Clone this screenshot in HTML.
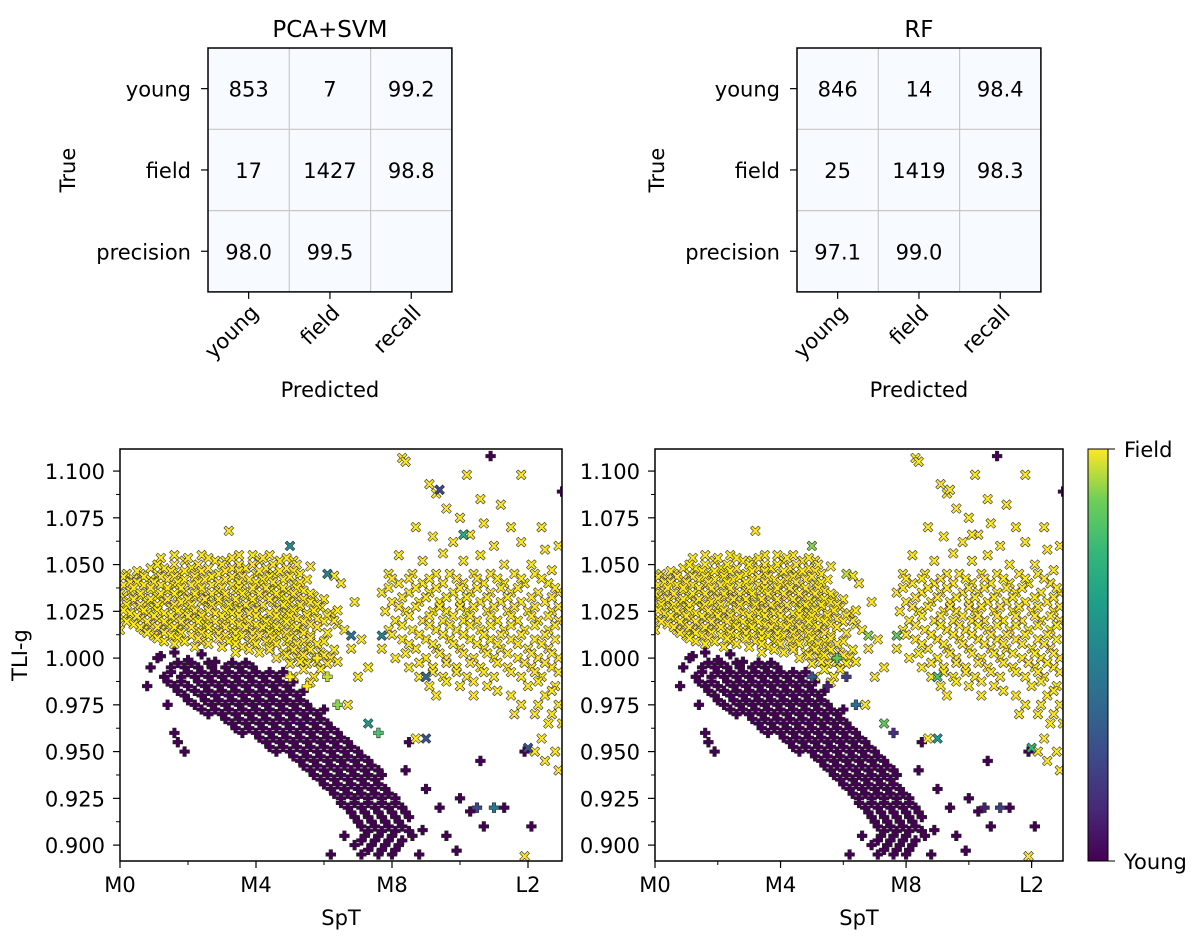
<!DOCTYPE html>
<html><head><meta charset="utf-8">
<style>
html,body{margin:0;padding:0;background:#fff;}
svg{display:block;font-family:"DejaVu Sans","Liberation Sans",sans-serif;}
</style></head>
<body>
<svg id="fig" width="1200" height="937" viewBox="0 0 1200 937" xmlns="http://www.w3.org/2000/svg">
<defs>
<clipPath id="clipL"><rect x="120" y="449" width="442" height="412"/></clipPath>
<clipPath id="clipR"><rect x="655" y="449" width="408" height="412"/></clipPath>
<linearGradient id="viridis" x1="0" y1="1" x2="0" y2="0">
<stop offset="0" stop-color="#440154"/><stop offset="0.125" stop-color="#482878"/><stop offset="0.25" stop-color="#3e4989"/><stop offset="0.375" stop-color="#31688e"/><stop offset="0.5" stop-color="#26828e"/><stop offset="0.625" stop-color="#1f9e89"/><stop offset="0.75" stop-color="#35b779"/><stop offset="0.875" stop-color="#6ece58"/><stop offset="1" stop-color="#fde725"/>
</linearGradient>
</defs>
<g id="cms"></g>
<g id="scatters"></g>
<g>
<rect x="1088" y="449" width="20" height="412" fill="url(#viridis)" stroke="#000" stroke-width="1"/>
<line x1="1108" y1="449" x2="1115" y2="449" stroke="#000"/>
<line x1="1108" y1="861" x2="1115" y2="861" stroke="#000"/>
<text x="1124" y="457" font-size="21">Field</text>
<text x="1124" y="869" font-size="21">Young</text>
</g>
</svg>
<script>
// ---- confusion matrix data ----
const cmRowLabels = ["young","field","precision"];
const cmColLabels = ["young","field","recall"];
const svmValues = [["853","7","99.2"],["17","1427","98.8"],["98.0","99.5",""]];
const rfValues = [["846","14","98.4"],["25","1419","98.3"],["97.1","99.0",""]];

// ---- scatter data (SpT index: M0=0 ... L3=13; TLI-g) ----
const fieldSpT = [3.2,
1.6,2.4,3.5,3.9,4.4,
1.9,2.8,3.1,4.1,4.7,5.1,
0.9,1.3,2.1,2.6,3.3,3.7,4.3,4.9,
0.2,0.6,1.1,1.7,2.2,2.9,3.5,4.0,4.5,5.3,
0.4,0.9,1.4,1.9,2.5,3.1,3.8,4.2,4.8,5.5,
0.1,0.7,1.2,1.6,2.1,2.7,3.3,3.6,4.1,4.6,5.1,
0.3,0.9,1.4,1.9,2.4,2.9,3.4,3.9,4.4,4.9,5.4,
0.1,0.6,1.1,1.7,2.2,2.6,3.1,3.7,4.2,4.7,5.2,5.7,
0.2,0.8,1.3,1.8,2.4,2.9,3.4,3.9,4.5,5.0,5.6,
0.0,0.5,1.0,1.5,2.0,2.6,3.2,3.6,4.1,4.7,5.3,5.9,
0.3,0.8,1.3,1.9,2.3,2.8,3.3,3.8,4.4,4.9,5.5,6.2,
0.1,0.6,1.1,1.6,2.1,2.6,3.1,3.6,4.2,4.8,5.2,5.8,
0.4,0.9,1.4,1.9,2.5,3.0,3.5,4.0,4.5,5.0,5.6,6.4,
0.0,0.7,1.2,1.7,2.3,2.8,3.3,3.8,4.3,4.7,5.3,
1.0,1.5,2.1,2.6,3.1,3.6,4.1,4.6,5.1,5.6,
1.3,1.9,2.4,3.2,3.8,4.3,4.9,5.4,6.0,
2.2,3.0,3.6,4.4,5.0,5.5,
3.4,4.1,4.8,5.3,5.9,
4.6,5.2,5.7,6.2,
5.0,5.5,6.1,
5.4,5.9,
5.1,5.7,
5.6,
6.3,6.6,6.9,7.1,6.8,7.3,6.5,7.0,6.7,6.3,5.6,
8.3,8.4,9.1,9.3,10.2,11.8,10.6,11.2,9.6,10.0,10.7,11.5,12.4,8.7,9.2,9.8,10.3,11.0,11.8,12.5,12.9,8.2,8.9,9.5,10.1,10.6,11.3,12.1,12.7,
7.9,8.6,9.3,9.7,10.4,10.9,11.6,12.2,
8.2,8.9,9.5,10.1,10.7,11.3,11.9,12.6,
7.7,8.5,9.1,9.8,10.3,10.9,11.5,12.3,12.9,
8.0,8.8,9.4,10.0,10.6,11.2,11.8,12.5,
7.8,8.4,9.2,9.6,10.2,10.8,11.4,12.0,12.7,
8.1,8.9,9.5,10.1,10.5,11.1,11.7,12.3,12.9,
7.9,8.6,9.3,9.9,10.6,11.3,11.9,12.6,
8.3,9.0,9.7,10.3,10.9,11.5,12.2,12.8,
7.7,8.7,9.3,10.0,10.7,11.2,12.0,12.6,
8.1,9.0,9.6,10.4,11.0,11.7,12.3,12.9,
8.5,9.2,9.9,10.6,11.4,12.1,12.7,
8.8,9.5,10.2,11.0,11.8,12.4,
9.1,10.0,10.8,12.0,12.8,
9.3,10.4,11.5,12.5,
11.8,12.3,12.9,
11.6,12.2,12.7,
12.6,13.0,
8.7,12.4,
12.2,12.8,
12.5,12.9,11.9];
const fieldTLI = [1.068,
1.055,1.055,1.055,1.055,1.055,
1.052,1.052,1.052,1.052,1.052,1.052,
1.048,1.048,1.048,1.048,1.048,1.048,1.048,1.048,
1.045,1.045,1.045,1.045,1.045,1.045,1.045,1.045,1.045,1.045,
1.042,1.042,1.042,1.042,1.042,1.042,1.042,1.042,1.042,1.042,
1.039,1.039,1.039,1.039,1.039,1.039,1.039,1.039,1.039,1.039,1.039,
1.036,1.036,1.036,1.036,1.036,1.036,1.036,1.036,1.036,1.036,1.036,
1.033,1.033,1.033,1.033,1.033,1.033,1.033,1.033,1.033,1.033,1.033,1.033,
1.030,1.030,1.030,1.030,1.030,1.030,1.030,1.030,1.030,1.030,1.030,
1.027,1.027,1.027,1.027,1.027,1.027,1.027,1.027,1.027,1.027,1.027,1.027,
1.024,1.024,1.024,1.024,1.024,1.024,1.024,1.024,1.024,1.024,1.024,1.024,
1.021,1.021,1.021,1.021,1.021,1.021,1.021,1.021,1.021,1.021,1.021,1.021,
1.018,1.018,1.018,1.018,1.018,1.018,1.018,1.018,1.018,1.018,1.018,1.018,
1.015,1.015,1.015,1.015,1.015,1.015,1.015,1.015,1.015,1.015,1.015,
1.012,1.012,1.012,1.012,1.012,1.012,1.012,1.012,1.012,1.012,
1.009,1.009,1.009,1.009,1.009,1.009,1.009,1.009,1.009,
1.006,1.006,1.006,1.006,1.006,1.006,
1.003,1.003,1.003,1.003,1.003,
1.000,1.000,1.000,1.000,
0.997,0.997,0.997,
0.994,0.994,
0.990,0.990,
0.987,
1.020,1.015,1.030,1.010,1.005,0.995,1.040,0.990,0.975,1.044,1.049,
1.107,1.105,1.093,1.088,1.098,1.098,1.085,1.082,1.080,1.075,1.072,1.070,1.070,1.070,1.065,1.062,1.066,1.060,1.062,1.058,1.060,1.055,1.052,1.056,1.052,1.055,1.050,1.050,1.047,
1.045,1.045,1.045,1.045,1.045,1.045,1.045,1.045,
1.040,1.040,1.040,1.040,1.040,1.040,1.040,1.040,
1.035,1.035,1.035,1.035,1.035,1.035,1.035,1.035,1.035,
1.030,1.030,1.030,1.030,1.030,1.030,1.030,1.030,
1.025,1.025,1.025,1.025,1.025,1.025,1.025,1.025,1.025,
1.020,1.020,1.020,1.020,1.020,1.020,1.020,1.020,1.020,
1.015,1.015,1.015,1.015,1.015,1.015,1.015,1.015,
1.010,1.010,1.010,1.010,1.010,1.010,1.010,1.010,
1.005,1.005,1.005,1.005,1.005,1.005,1.005,1.005,
1.000,1.000,1.000,1.000,1.000,1.000,1.000,1.000,
0.995,0.995,0.995,0.995,0.995,0.995,0.995,
0.990,0.990,0.990,0.990,0.990,0.990,
0.985,0.985,0.985,0.985,0.985,
0.980,0.980,0.980,0.980,
0.975,0.975,0.975,
0.970,0.970,0.970,
0.965,0.965,
0.957,0.957,
0.950,0.950,
0.945,0.940,0.894];

// additional field points, read row by row (TLI of row, SpT values in row)
const fieldRowsTLI = [1.0535,1.0500,1.0465,1.0435,1.0405,1.0375,1.0345,1.0315,1.0285,1.0255,1.0225,1.0195,1.0165,1.0135,1.0105,1.0075,1.0045,1.0015,0.998,
1.0425,1.0375,1.0325,1.0275,1.0225,1.0175,1.0125,1.0075,1.0025,0.9975,0.9925,0.9875,0.9825];
const fieldRowsSpT = [
[1.2,2.0,2.6,3.3,4.2,4.9],
[1.1,1.6,2.3,3.0,3.5,3.9,4.5,5.2],
[0.5,1.5,1.9,2.4,3.1,3.5,4.1,4.7,5.1],
[0.1,0.7,1.2,1.6,2.2,2.7,3.3,3.6,4.4,5.0],
[0.3,0.5,1.0,1.7,2.3,2.9,3.5,4.0,4.5,5.3],
[0.4,0.9,1.4,1.8,2.4,3.0,3.5,3.9,4.3,4.8,5.2],
[0.0,0.6,1.2,1.6,2.2,2.7,3.1,3.6,4.1,4.6,5.1,5.6],
[0.4,0.9,1.4,2.0,2.5,2.9,3.4,3.9,4.4,4.9,5.4,6.0],
[0.2,0.6,1.1,1.6,2.1,2.7,3.2,3.7,4.2,4.8,5.3,5.8],
[0.1,0.7,1.1,1.7,2.2,2.6,3.1,3.5,4.0,4.6,5.1,5.7,6.4],
[0.5,1.0,1.5,2.0,2.4,3.0,3.5,4.0,4.6,5.0,5.5,6.1],
[0.2,0.8,1.3,1.8,2.3,2.8,3.3,3.8,4.3,4.9,5.4,6.0],
[0.6,1.1,1.6,2.1,2.6,3.1,3.7,4.2,4.6,5.2,5.8],
[0.8,1.3,1.8,2.4,2.9,3.4,3.9,4.4,4.9,5.4,6.1],
[1.1,1.7,2.3,2.9,3.4,3.9,4.5,5.0,5.6],
[1.6,2.6,3.4,4.0,4.6,5.2,5.8],
[3.8,4.4,5.1,5.6,6.3],
[4.9,5.4,6.0],
[5.3,5.8,6.4],
[8.0,8.5,9.1,9.9,10.5,11.1,11.8,12.4],
[7.9,8.7,9.3,10.0,10.5,11.2,11.7,12.8],
[8.3,9.0,9.6,10.2,10.8,11.4,12.1,12.7],
[8.2,8.7,9.4,10.0,10.4,11.0,11.6,12.2,12.9],
[8.5,9.1,9.8,10.3,10.9,11.5,12.1,12.6],
[8.3,9.1,9.7,10.3,10.9,11.5,12.2,12.8],
[8.0,8.8,9.5,10.1,10.7,11.2,11.8,12.5],
[8.5,9.2,9.8,10.5,11.1,11.7,12.4],
[8.4,9.4,10.1,10.8,11.4,12.1,12.7],
[8.8,9.6,10.3,11.1,11.9,12.5],
[9.2,9.9,10.7,11.5,12.2,12.9],
[9.6,10.4,12.3],
[11.1,12.7]];

const youngSpT = [1.2,1.6,2.0,2.4,2.8,0.9,1.1,0.8,
1.5,1.9,2.3,2.7,3.1,3.5,3.9,
1.3,1.8,2.2,2.6,3.0,3.4,3.8,4.2,4.6,
1.6,2.0,2.5,2.9,3.3,3.7,4.1,4.5,4.9,
1.9,2.4,2.8,3.2,3.6,4.0,4.4,4.8,5.2,
1.4,2.2,2.7,3.1,3.5,3.9,4.3,4.7,5.1,5.5,
2.6,3.0,3.4,3.8,4.2,4.6,5.0,5.4,5.8,
3.3,3.7,4.1,4.5,4.9,5.3,5.7,6.1,
1.6,3.6,4.0,4.4,4.8,5.2,5.6,6.0,6.4,
1.7,4.3,4.7,5.1,5.5,5.9,6.3,6.7,
1.9,4.6,5.0,5.4,5.8,6.2,6.6,7.0,
5.3,5.7,6.1,6.5,6.9,7.3,
5.6,6.0,6.4,6.8,7.2,7.6,
5.9,6.3,6.7,7.1,7.5,
6.2,6.6,7.0,7.4,7.8,
6.5,6.9,7.3,7.7,8.1,
6.7,7.1,7.5,7.9,8.3,
6.9,7.3,7.7,8.1,8.5,
7.1,7.5,7.9,8.3,
6.6,7.2,7.6,8.0,8.6,
6.9,7.4,7.8,8.2,
6.2,7.1,7.6,8.0,8.8,
8.5,9.0,9.4,10.0,10.3,8.9,9.6,10.7,11.3,12.1,9.9,8.4,10.6,11.9,10.9,13.0];
const youngTLI = [1.001,1.003,0.999,1.002,0.998,0.995,1.0,0.985,
0.995,0.995,0.995,0.995,0.995,0.995,0.995,
0.990,0.990,0.990,0.990,0.990,0.990,0.990,0.990,0.990,
0.985,0.985,0.985,0.985,0.985,0.985,0.985,0.985,0.985,
0.980,0.980,0.980,0.980,0.980,0.980,0.980,0.980,0.980,
0.975,0.975,0.975,0.975,0.975,0.975,0.975,0.975,0.975,0.975,
0.970,0.970,0.970,0.970,0.970,0.970,0.970,0.970,0.970,
0.965,0.965,0.965,0.965,0.965,0.965,0.965,0.965,
0.960,0.960,0.960,0.960,0.960,0.960,0.960,0.960,0.960,
0.955,0.955,0.955,0.955,0.955,0.955,0.955,0.955,
0.950,0.950,0.950,0.950,0.950,0.950,0.950,0.950,
0.945,0.945,0.945,0.945,0.945,0.945,
0.940,0.940,0.940,0.940,0.940,0.940,
0.935,0.935,0.935,0.935,0.935,
0.930,0.930,0.930,0.930,0.930,
0.925,0.925,0.925,0.925,0.925,
0.920,0.920,0.920,0.920,0.920,
0.915,0.915,0.915,0.915,0.915,
0.910,0.910,0.910,0.910,
0.905,0.905,0.905,0.905,0.905,
0.900,0.900,0.900,0.900,
0.895,0.895,0.895,0.895,0.895,
0.955,0.930,0.920,0.925,0.918,0.908,0.905,0.910,0.920,0.910,0.897,0.940,0.945,0.950,1.108,1.089];

// additional young points, read row by row
const youngRowsTLI = [0.9975,0.9925,0.9875,0.9825,0.9775,0.9725,0.9675,0.9625,0.9575,0.9525,0.9475,0.9425,0.9375,0.9325,0.9275,0.9225,0.9175,0.9125,0.9075,0.9025,0.8975];
const youngRowsSpT = [
[1.7,2.1,2.6,3.3,3.7],
[1.5,2.0,2.4,2.8,3.2,3.6,4.0,4.4,4.8],
[1.4,1.8,2.3,2.7,3.1,3.5,3.9,4.3,4.7,5.1],
[1.7,2.2,2.6,3.0,3.4,3.8,4.2,4.6,5.0,5.4],
[2.0,2.5,2.9,3.3,3.7,4.1,4.5,4.9,5.3],
[2.4,2.8,3.2,3.6,4.0,4.4,4.8,5.2,5.6,6.0],
[3.1,3.5,3.9,4.3,4.7,5.1,5.5,5.9],
[3.4,3.8,4.2,4.6,5.0,5.4,5.8,6.2],
[4.1,4.5,4.9,5.3,5.7,6.1,6.5],
[4.4,4.8,5.2,5.6,6.0,6.4,6.8],
[5.1,5.5,5.9,6.3,6.7,7.1],
[5.4,5.8,6.2,6.6,7.0,7.4],
[5.7,6.1,6.5,6.9,7.3,7.7],
[6.0,6.4,6.8,7.2,7.6],
[6.3,6.7,7.1,7.5,7.9],
[6.5,6.9,7.3,7.7,8.1],
[6.8,7.2,7.6,8.0,8.4],
[7.0,7.4,7.8,8.2],
[7.3,7.7,8.1,8.5],
[7.1,7.5,7.9,8.3],
[7.3,7.7,8.1]];

// points with intermediate predicted probability (0 = young, 1 = field)
const mixedSpT = [5.0,6.1,6.8,7.7,9.0,10.1,7.3,7.6,11.0,10.5,9.0,12.0,9.4,5.0,5.8,6.1,5.5,6.4];
const mixedTLI = [1.060,1.045,1.012,1.012,0.990,1.066,0.965,0.960,0.920,0.920,0.957,0.952,1.090,0.990,1.000,0.990,0.985,0.975];
const mixedMarker = ["X","X","X","X","X","X","X","P","P","P","X","X","X","P","P","P","P","P"];
const svmProb = [0.55,0.5,0.45,0.5,0.4,0.7,0.6,0.8,0.45,0.25,0.3,0.3,0.25,1.0,1.0,0.95,1.0,0.9];
const rfProb = [0.9,0.95,0.9,0.85,0.8,1.0,0.85,0.15,0.2,0.1,0.6,0.75,1.0,0.3,0.85,0.2,0.1,0.4];

// ---- ticks ----
const xTickVals = [0,4,8,12];
const xTickLabels = ["M0","M4","M8","L2"];
const yTickVals = [0.900,0.925,0.950,0.975,1.000,1.025,1.050,1.075,1.100];
const yTickLabels = ["0.900","0.925","0.950","0.975","1.000","1.025","1.050","1.075","1.100"];

const NS = "http://www.w3.org/2000/svg";
function mk(tag, attrs, parent){const e=document.createElementNS(NS,tag);for(const k in attrs)e.setAttribute(k,attrs[k]);parent.appendChild(e);return e;}

// ---- confusion matrices ----
const cmG = document.getElementById('cms');
function drawCM(x0, title, vals, key){
  const g = mk('g',{},cmG);
  
  
  const cw = 81.3, y0 = 48;
  const bg = mk('rect',{x:x0,y:y0,width:cw*3,height:cw*3,fill:'#f7fbff'},g);
  
  
  for(let i=1;i<3;i++){
    mk('line',{x1:x0+i*cw,y1:y0,x2:x0+i*cw,y2:y0+3*cw,stroke:'#c8c8c8','stroke-width':1.2},g);
    mk('line',{x1:x0,y1:y0+i*cw,x2:x0+3*cw,y2:y0+i*cw,stroke:'#c8c8c8','stroke-width':1.2},g);
  }
  mk('rect',{x:x0,y:y0,width:cw*3,height:cw*3,fill:'none',stroke:'#000','stroke-width':1.5},g);
  for(let r=0;r<3;r++)for(let c=0;c<3;c++){
    if(!vals[r][c])continue;
    const t=mk('text',{x:x0+(c+0.5)*cw,y:y0+(r+0.5)*cw+8,'font-size':21,'text-anchor':'middle'},g);
    t.textContent=vals[r][c];
    
    
  }
  for(let r=0;r<3;r++){
    const cy=y0+(r+0.5)*cw;
    mk('line',{x1:x0-7,y1:cy,x2:x0,y2:cy,stroke:'#000','stroke-width':1.2},g);
    const t=mk('text',{x:x0-17,y:cy+8,'font-size':21,'text-anchor':'end'},g);
    t.textContent=cmRowLabels[r];
    
    
  }
  for(let c=0;c<3;c++){
    const cx=x0+(c+0.5)*cw, by=y0+3*cw;
    mk('line',{x1:cx,y1:by,x2:cx,y2:by+7,stroke:'#000','stroke-width':1.2},g);
    const ax=cx+11, ay=by+22;
    const t=mk('text',{x:ax,y:ay,'font-size':21,'text-anchor':'end',transform:`rotate(-45 ${ax} ${ay})`},g);
    t.textContent=cmColLabels[c];
    
    
  }
  const tt=mk('text',{x:x0+1.5*cw,y:37,'font-size':23,'text-anchor':'middle'},g);
  tt.textContent=title;
  
  
  const px=mk('text',{x:x0+1.5*cw,y:397,'font-size':21,'text-anchor':'middle'},g);
  px.textContent='Predicted';
  
  
  const tyx=x0-133;
  const ty=mk('text',{x:tyx,y:170,'font-size':21,'text-anchor':'middle',transform:`rotate(-90 ${tyx} 170)`},g);
  ty.textContent='True';
  
  
}
drawCM(208,'PCA+SVM',svmValues,'svm');
drawCM(797,'RF',rfValues,'rf');

// ---- viridis ----
const vir=[[68,1,84],[72,40,120],[62,73,137],[49,104,142],[38,130,142],[31,158,137],[53,183,121],[110,206,88],[253,231,37]];
function viridis(p){p=Math.max(0,Math.min(1,p));const f=p*8,i=Math.min(7,Math.floor(f)),t=f-i;const a=vir[i],b=vir[i+1];return `rgb(${a.map((v,k)=>Math.round(v+(b[k]-v)*t)).join(',')})`;}

const X_PATH="M-1,-0.6 L-0.6,-1 L0,-0.4 L0.6,-1 L1,-0.6 L0.4,0 L1,0.6 L0.6,1 L0,0.4 L-0.6,1 L-1,0.6 L-0.4,0 Z";
const P_PATH="M-0.36,-1 H0.36 V-0.36 H1 V0.36 H0.36 V1 H-0.36 V0.36 H-1 V-0.36 H-0.36 Z";

const YMIN=0.8915, YMAX=1.1118, AX_TOP=449, AX_BOT=861;
function yScale(t){return AX_BOT-(t-YMIN)/(YMAX-YMIN)*(AX_BOT-AX_TOP);}

const scG=document.getElementById('scatters');
function drawScatter(x0,w,clip,key,probArr,showYLabels){
  const xScale=s=>x0+s/13*w;
  const g=mk('g',{},scG);
  
  
  const pts=mk('g',{'clip-path':`url(#${clip})`},g);
  
  
  function marker(s,t,shape,color,name){
    const p=mk('path',{d:shape==='X'?X_PATH:P_PATH,transform:`translate(${xScale(s).toFixed(1)},${yScale(t).toFixed(1)}) scale(4.9)`,fill:color,stroke:'#222','stroke-width':0.11},pts);
    
    
  }
  for(let i=0;i<youngSpT.length;i++) marker(youngSpT[i],youngTLI[i],'P','#440154','young-point');
  youngRowsTLI.forEach((t,r)=>youngRowsSpT[r].forEach(s=>marker(s,t,'P','#440154','young-point')));
  for(let i=0;i<fieldSpT.length;i++) marker(fieldSpT[i],fieldTLI[i],'X','#fde725','field-point');
  fieldRowsTLI.forEach((t,r)=>fieldRowsSpT[r].forEach(s=>marker(s,t,'X','#fde725','field-point')));
  for(let i=0;i<mixedSpT.length;i++) marker(mixedSpT[i],mixedTLI[i],mixedMarker[i],viridis(probArr[i]),'mixed-point');
  mk('rect',{x:x0,y:AX_TOP,width:w,height:AX_BOT-AX_TOP,fill:'none',stroke:'#000','stroke-width':1.5},g);
  for(let s=0;s<=13;s+=2){const X=xScale(s);mk('line',{x1:X,y1:AX_BOT,x2:X,y2:AX_BOT+4,stroke:'#000'},g);}
  xTickVals.forEach((v,i)=>{
    const X=xScale(v);
    mk('line',{x1:X,y1:AX_BOT,x2:X,y2:AX_BOT+7,stroke:'#000','stroke-width':1.2},g);
    const t=mk('text',{x:X,y:AX_BOT+31,'font-size':21,'text-anchor':'middle'},g);
    t.textContent=xTickLabels[i];
    
    
  });
  yTickVals.forEach((v,i)=>{
    const Y=yScale(v);
    mk('line',{x1:x0-7,y1:Y,x2:x0,y2:Y,stroke:'#000','stroke-width':1.2},g);
    const Ym=yScale(v+0.0125);
    if(Ym>AX_TOP) mk('line',{x1:x0-4,y1:Ym,x2:x0,y2:Ym,stroke:'#000'},g);
    const t=mk('text',{x:x0-15,y:Y+8,'font-size':21,'text-anchor':'end'},g);
    t.textContent=yTickLabels[i];
    
    
  });
  const xt=mk('text',{x:x0+w/2,y:925,'font-size':21,'text-anchor':'middle'},g);
  xt.textContent='SpT';
  
  
  if(showYLabels){
    const yt=mk('text',{x:27,y:655,'font-size':21,'text-anchor':'middle',transform:'rotate(-90 27 655)'},g);
    yt.textContent='TLI-g';
    
    
  }
}
drawScatter(120,442,'clipL','svm',svmProb,true);
drawScatter(655,408,'clipR','rf',rfProb,false);
</script>
</body></html>
